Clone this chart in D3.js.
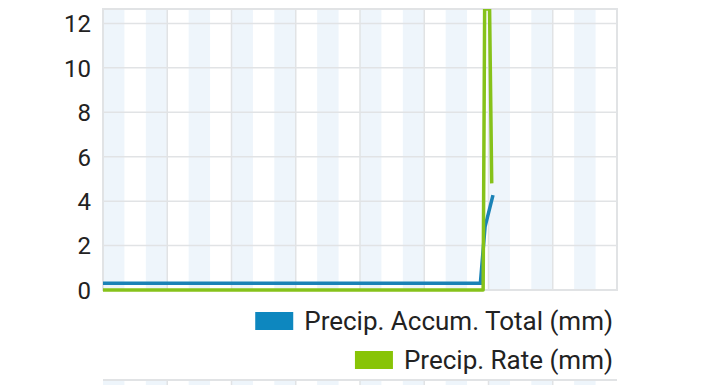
<!DOCTYPE html>
<meta charset="utf-8">
<style>

body {
  margin: 0;
  background: #fff;
  font-family: Roboto, "Noto Sans", Arial, sans-serif;
}

.axis--y path, .axis--y line {
  display: none;
}

.axis--y text {
  font-family: Roboto, "Noto Sans", Arial, sans-serif;
  font-size: 24px;
  fill: #222;
}

.legend text {
  font-size: 26px;
  fill: #222;
}

</style>
<svg id="chart"></svg>
<script src="https://d3js.org/d3.v7.min.js"></script>
<script>

// DATA (hours of the day, mm)
const accumHours = [0, 17.62, 17.84, 18.21];
const accumTotal = [0.3, 0.3, 2.85, 4.27];

const rateHours = [0, 17.75, 17.82, 18.05, 18.15];
const rateValues = [0, 0, 12.65, 12.65, 4.8];

const yTicks = [0, 2, 4, 6, 8, 10, 12];
const legendLabels = ["Precip. Accum. Total (mm)", "Precip. Rate (mm)"];
const legendColors = ["#0d87bf", "#88c406"];

  let svg = d3.select("#chart")
  .attr("width", 720)
  .attr("height", 385);

  let margin = {top: 9, right: 103, bottom: 95, left: 103},
  width = 720 - margin.left - margin.right,
  height = 385 - margin.top - margin.bottom;

  let x = d3.scaleLinear()
  .domain([0, 24])
  .range([0, width]);

  let y = d3.scaleLinear()
  .domain([0, 12.65])
  .range([height, 0]);

  let g = svg.append("g")
  .attr("transform", "translate(" + margin.left + "," + margin.top + ")");

  svg.append("defs").append("clipPath")
  .attr("id", "clip")
  .append("rect")
  .attr("width", width)
  .attr("height", height + 2);

  let hours = d3.range(0, 24, 2);
  let gridHours = d3.range(3, 24, 3);

  // plot panel: bands, grid
  function panel(sel, h) {
    sel.selectAll(".band")
    .data(hours)
    .enter()
    .append("rect")
    .attr("class", "band")
    .attr("x", d => x(d))
    .attr("y", 0)
    .attr("width", x(1) - x(0))
    .attr("height", h)
    .attr("fill", "#eef5fb");

    sel.selectAll(".vgrid")
    .data(gridHours)
    .enter()
    .append("line")
    .attr("class", "vgrid")
    .attr("x1", d => x(d))
    .attr("x2", d => x(d))
    .attr("y1", 0)
    .attr("y2", h)
    .attr("stroke", "#e1e3e5")
    .attr("stroke-width", 1.5);
  }

  panel(g, height);

  g.selectAll(".hgrid")
  .data(yTicks.filter(d => d > 0))
  .enter()
  .append("line")
  .attr("class", "hgrid")
  .attr("x1", 0)
  .attr("x2", width)
  .attr("y1", d => y(d))
  .attr("y2", d => y(d))
  .attr("stroke", "#e1e3e5")
  .attr("stroke-width", 1.5);

  g.append("rect")
  .attr("width", width)
  .attr("height", height)
  .attr("fill", "none")
  .attr("stroke", "#e1e3e5")
  .attr("stroke-width", 2);

  g.append("g")
  .attr("class", "axis axis--y")
  .call(d3.axisLeft(y).tickValues(yTicks).tickSize(0).tickPadding(12))
  .selectAll("text")
  .attr("dy", "0.35em");

  let line = d3.line()
  .x(d => x(d[0]))
  .y(d => y(d[1]));

  let lines = g.append("g").attr("clip-path", "url(#clip)");

  lines.append("path")
  .datum(d3.zip(accumHours, accumTotal))
  .attr("fill", "none")
  .attr("stroke", "#1a82b6")
  .attr("stroke-width", 3.5)
  .attr("d", line);

  lines.append("path")
  .datum(d3.zip(rateHours, rateValues))
  .attr("fill", "none")
  .attr("stroke", "#86c21a")
  .attr("stroke-width", 3.5)
  .attr("stroke-linejoin", "round")
  .attr("d", line);

  // legend, right aligned
  let legend = svg.append("g")
  .attr("class", "legend");

  let rows = legend.selectAll("g")
  .data(legendLabels)
  .enter()
  .append("g")
  .attr("transform", (d, i) => "translate(0," + (330 + i * 39) + ")");

  rows.append("text")
  .attr("x", 613)
  .attr("text-anchor", "end")
  .text(d => d);

  rows.each(function(d, i) {
    let row = d3.select(this);
    let w = row.select("text").node().getComputedTextLength();
    row.append("rect")
    .attr("x", 613 - w - 49)
    .attr("y", -18)
    .attr("width", 38)
    .attr("height", 18)
    .attr("fill", legendColors[i]);
  });

  // top of the next panel below
  let g2 = svg.append("g")
  .attr("transform", "translate(" + margin.left + ",380)");

  panel(g2, 10);

  g2.append("line")
  .attr("x1", 0)
  .attr("x2", width)
  .attr("stroke", "#e1e3e5")
  .attr("stroke-width", 2);

</script>
